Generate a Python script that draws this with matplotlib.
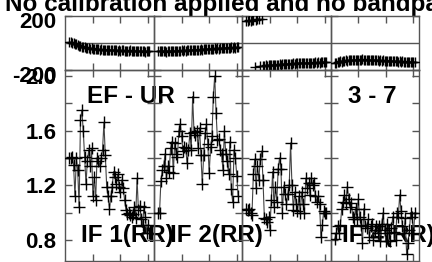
import matplotlib
matplotlib.use("Agg")
import matplotlib.pyplot as plt
import numpy as np
from matplotlib.transforms import ScaledTranslation

plt.rcParams['font.family'] = ['Liberation Sans', 'DejaVu Sans']
plt.rcParams['font.weight'] = 'bold'

title = "No calibration applied and no bandpass"
baseline_label = ["EF - UR", None, None, "3 - 7"]
if_labels = ["IF 1(RR)", "IF 2(RR)", None, "IF 4(RR)"]

first_channel = 3
x_limits = (0, 64)
x_ticks = [20, 40, 60]

phase_if1 = [8, 5, 2, -2, -8, -12, -15, -20, -22, -28, -30, -33, -35, -38, -40,
             -42, -40, -45, -44, -47, -45, -48, -50, -47, -52, -50, -49, -53, -51, -55,
             -52, -54, -56, -53, -55, -57, -54, -58, -56, -55, -59, -57, -60, -58, -56,
             -61, -59, -57, -62, -60, -58, -63, -60, -62, -59, -64, -61, -60, -63]
phase_if2 = [-58, -62, -60, -63, -59, -61, -64, -60, -62, -58, -61, -63, -59, -60, -57,
             -61, -58, -56, -59, -55, -57, -54, -56, -52, -55, -51, -53, -50, -52, -49,
             -51, -47, -50, -46, -48, -45, -47, -43, -46, -42, -44, -41, -43, -40, -42,
             -38, -41, -37, -39, -36, -38, -35, -37, -34, -36, -33, -35, -32, -34]
phase_if3 = [160, 163, 165, 162, 168, 170, -175, 172, 174, 176, -172, 178,
             -170, -168, -166, -167, -164, -165, -163, -164, -161, -162, -160, -161, -158,
             -160, -157, -158, -156, -157, -155, -156, -153, -155, -152, -154, -151, -152,
             -150, -151, -149, -150, -148, -149, -147, -148, -146, -147, -145, -146, -144,
             -145, -143, -145, -142, -144, -141, -143, -142]
phase_if4 = [-148, -145, -140, -142, -136, -138, -133, -135, -130, -132, -128, -130, -126,
             -129, -125, -127, -124, -126, -123, -125, -122, -126, -124, -127, -123, -126,
             -128, -125, -129, -127, -130, -128, -131, -129, -132, -130, -133, -131, -134,
             -132, -135, -133, -136, -134, -137, -135, -138, -136, -139, -137, -140, -138,
             -141, -139, -142, -140, -143, -141, -142]

amp_if1 = [1.40, 1.40, 1.41, 1.35, 1.12, 1.40, 1.31, 1.04, 1.68, 1.75, 1.60, 1.41, 1.21,
           1.38, 1.46, 1.34, 1.47, 1.12, 1.26, 1.09, 1.40, 1.38, 1.34, 1.40, 1.46, 1.66,
           1.42, 1.19, 1.12, 1.03, 1.12, 1.19, 1.30, 1.26, 1.21, 1.28, 1.19, 1.15, 1.24,
           1.18, 1.09, 1.02, 0.99, 1.00, 0.98, 0.97, 0.99, 1.04, 0.96, 1.25, 1.02, 1.05,
           0.95, 0.91, 1.04, 0.97, 0.85, 0.91, 0.85]
amp_if2 = [1.00, 1.00, 1.23, 1.31, 1.34, 1.43, 1.25, 1.34, 1.30, 1.47, 1.52, 1.29, 1.51,
           1.43, 1.41, 1.60, 1.65, 1.56, 1.45, 1.48, 1.47, 1.36, 1.46, 1.58, 1.46, 1.85,
           1.59, 1.57, 1.60, 1.47, 1.62, 1.42, 1.21, 1.42, 1.58, 1.65, 1.50, 1.29, 1.48,
           1.56, 1.85, 2.00, 1.73, 1.53, 1.54, 1.46, 1.43, 1.31, 1.60, 1.43, 1.38, 1.28,
           1.52, 1.17, 1.08, 1.46, 1.40, 1.27, 1.12]
amp_if3 = [1.03, 1.02, 1.03, 1.00, 0.98, 1.28, 1.39, 1.18, 1.34, 1.24, 1.39, 1.45, 1.24,
           0.96, 0.95, 0.93, 0.97, 0.87, 1.09, 1.30, 1.04, 1.19, 1.08, 1.32, 1.40, 1.32,
           1.00, 1.19, 1.14, 1.06, 1.14, 1.20, 1.51, 1.20, 1.02, 1.15, 1.06, 1.01, 1.12,
           1.00, 1.15, 1.06, 1.00, 1.25, 1.18, 1.22, 1.13, 1.25, 1.20, 1.22, 1.12, 1.08,
           1.12, 1.06, 0.82, 0.91, 1.01, 1.00, 1.00]
amp_if4 = [0.81, 0.85, 0.90, 0.85, 0.91, 1.03, 1.08, 1.13, 1.07, 1.19, 1.10, 1.04, 1.07,
           0.97, 0.95, 1.03, 0.95, 1.10, 0.97, 0.91, 0.78, 1.03, 0.90, 0.89, 0.95, 0.82,
           0.90, 0.92, 0.80, 0.87, 0.90, 0.85, 0.90, 0.79, 0.92, 1.00, 0.87, 0.79, 0.92,
           0.85, 0.79, 0.89, 0.97, 0.86, 0.80, 1.00, 0.97, 1.13, 1.01, 0.90, 0.85, 0.96,
           0.70, 0.78, 0.87, 1.00, 0.97, 0.85, 1.00]

phases = [phase_if1, phase_if2, phase_if3, phase_if4]
amps = [amp_if1, amp_if2, amp_if3, amp_if4]

W, H = 432, 262
fig = plt.figure(figsize=(W / 100, H / 100), dpi=100)

col_left = [65.3, 154.0, 242.3, 330.7]
col_w = 88.3
top_y0, top_y1 = 15.7, 70.0
bot_y0, bot_y1 = 70.0, 261.0

spine_col = '#555555'
fs_tick = 16
fs_label = 17.5

def style(ax):
    for s in ax.spines.values():
        s.set_color(spine_col)
        s.set_linewidth(1.0)
    ax.patch.set_visible(False)
    ax.tick_params(direction='in', length=5, width=1, color=spine_col,
                   top=True, right=True, labelsize=fs_tick, pad=6.5)

for i in range(4):
    x0 = col_left[i] / W
    w = col_w / W
    axt = fig.add_axes([x0, 1 - top_y1 / H, w, (top_y1 - top_y0) / H])
    axb = fig.add_axes([x0, 1 - bot_y1 / H, w, (bot_y1 - bot_y0) / H])
    for ax in (axt, axb):
        style(ax)
        ax.set_xlim(*x_limits)
        ax.set_xticks(x_ticks)
        ax.set_xticklabels([])
    chans = np.arange(first_channel, first_channel + len(phases[i]), dtype=float)
    ph = np.array(phases[i], dtype=float)
    axt.axhline(0, color=spine_col, lw=1, zorder=1)
    # connect points but break the line where the phase wraps around +-180
    breaks = np.where(np.abs(np.diff(ph)) > 180)[0] + 1
    for seg_x, seg_y in zip(np.split(chans, breaks), np.split(ph, breaks)):
        axt.plot(seg_x, seg_y, color='#444444', lw=0.8, zorder=2)
    axt.plot(chans, ph, ls='none', marker='+', ms=7, mew=1.0, mec='black', zorder=3)
    axt.set_ylim(-200, 200)
    axt.set_yticks([-200, 200])
    chans_b = list(range(first_channel, first_channel + len(amps[i])))
    axb.plot(chans_b, amps[i], color='#444444', lw=0.8, marker='+', ms=8,
             mew=1.0, mec='black', zorder=3)
    axb.set_ylim(0.646, 2.044)
    axb.set_yticks([0.8, 1.0, 1.2, 1.4, 1.6, 1.8, 2.0])
    if i == 0:
        axt.set_yticklabels(['-200', '200'])
        for lab in axt.get_yticklabels():
            lab.set_transform(lab.get_transform() + ScaledTranslation(0, -4 / 100, fig.dpi_scale_trans))
        axb.set_yticklabels(['0.8', '', '1.2', '', '1.6', '', '2.0'])
    else:
        axt.set_yticklabels([])
        axb.set_yticklabels([])

fig.text(5 / W, 1 - 11.5 / H, title, ha='left', va='baseline', fontsize=fs_label,
         fontweight='bold', zorder=-1)

bl_pos = [(87, 103), None, None, (348, 103)]
if_pos = [(81, 242), (170, 242), None, (342, 242)]
for i in range(4):
    if baseline_label[i]:
        fig.text(bl_pos[i][0] / W, 1 - bl_pos[i][1] / H, baseline_label[i], ha='left',
                 va='baseline', fontsize=fs_label, fontweight='bold', zorder=-1)
    if if_labels[i]:
        fig.text(if_pos[i][0] / W, 1 - if_pos[i][1] / H, if_labels[i], ha='left',
                 va='baseline', fontsize=fs_label, fontweight='bold', zorder=-1)

fig.savefig('out.png', dpi=100)
